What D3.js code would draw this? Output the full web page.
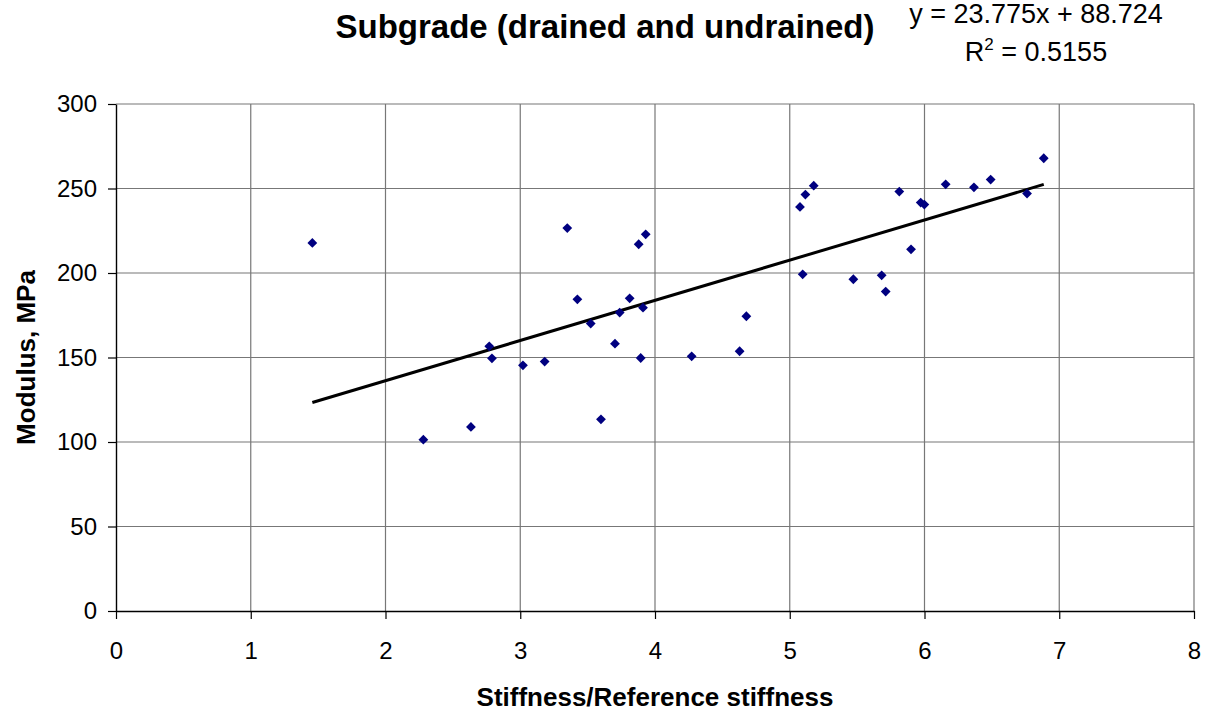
<!DOCTYPE html>
<html>
<head>
<meta charset="utf-8">
<script src="https://cdnjs.cloudflare.com/ajax/libs/d3/7.8.5/d3.min.js"></script>
<style>
  body { margin: 0; background: #fff; }
  svg { font-family: Arial, "Liberation Sans", sans-serif; }
</style>
</head>
<body>
<svg id="chart" width="1216" height="712"></svg>
<script>
// values
var stiffness = [1.457, 3.349, 3.931, 3.879, 3.424, 3.812, 3.911, 3.738, 3.523, 3.703,
                 2.770, 2.790, 3.894, 3.020, 3.181, 3.599, 2.634, 2.281, 4.272, 4.628,
                 4.678, 5.076, 5.116, 5.178, 5.096, 5.472, 5.682, 5.712, 5.813, 5.900,
                 5.972, 5.999, 6.157, 6.367, 6.491, 6.761, 6.885];
var modulus = [217.8, 226.6, 222.9, 217.0, 184.4, 185.0, 179.5, 176.6, 170.1, 158.2,
               156.6, 149.5, 149.7, 145.4, 147.6, 113.4, 108.9, 101.4, 150.7, 153.7,
               174.4, 239.1, 246.4, 251.7, 199.2, 196.3, 198.6, 189.0, 248.2, 214.0,
               241.7, 240.5, 252.5, 250.7, 255.3, 247.0, 267.9];
var xTicks = [0, 1, 2, 3, 4, 5, 6, 7, 8];
var yTicks = [0, 50, 100, 150, 200, 250, 300];
var slope = 23.775, intercept = 88.724;

var margin = {top: 104, right: 22, bottom: 101, left: 116},
    width = 1216 - margin.left - margin.right,
    height = 712 - margin.top - margin.bottom;

var svg = d3.select("#chart");
var g = svg.append("g").attr("transform", "translate(" + margin.left + "," + margin.top + ")");

var x = d3.scaleLinear().domain([0, 8]).range([0, width]);
var y = d3.scaleLinear().domain([0, 300]).range([height, 0]);

// gridlines
g.append("g").selectAll("line").data(yTicks.slice(1)).enter().append("line")
  .attr("x1", 0).attr("x2", width)
  .attr("y1", function(d) { return y(d); }).attr("y2", function(d) { return y(d); })
  .style("stroke", "#777").style("stroke-width", 1.2);
g.append("g").selectAll("line").data(xTicks.slice(1)).enter().append("line")
  .attr("y1", 0).attr("y2", height)
  .attr("x1", function(d) { return x(d); }).attr("x2", function(d) { return x(d); })
  .style("stroke", "#777").style("stroke-width", 1.2);

// axes
var xAxis = g.append("g").attr("transform", "translate(0," + height + ")")
  .call(d3.axisBottom(x).tickValues(xTicks).tickSize(8).tickSizeOuter(0).tickPadding(23));
var yAxis = g.append("g")
  .call(d3.axisLeft(y).tickValues(yTicks).tickSize(8).tickSizeOuter(0).tickPadding(11));
[xAxis, yAxis].forEach(function(a) {
  a.select(".domain").style("stroke", "#000").style("stroke-width", 1.4);
  a.selectAll(".tick line").style("stroke", "#000").style("stroke-width", 1.2);
  a.selectAll(".tick text").style("font-size", "24px").style("fill", "#000")
    .style("font-family", "Arial, 'Liberation Sans', sans-serif");
});

// trend line
var xmin = d3.min(stiffness), xmax = d3.max(stiffness);
g.append("line")
  .attr("x1", x(xmin)).attr("y1", y(slope * xmin + intercept))
  .attr("x2", x(xmax)).attr("y2", y(slope * xmax + intercept))
  .style("stroke", "#000").style("stroke-width", 3);

// points
g.append("g").selectAll("path").data(stiffness).enter().append("path")
  .attr("d", d3.symbol().type(d3.symbolSquare).size(48))
  .attr("transform", function(d, i) {
    return "translate(" + x(d) + "," + y(modulus[i]) + ") rotate(45)";
  })
  .style("fill", "#000080");

// titles
svg.append("text").attr("x", 605).attr("y", 38).attr("text-anchor", "middle")
  .style("font-size", "33px").style("font-weight", "bold").text("Subgrade (drained and undrained)");

svg.append("text").attr("x", 1036).attr("y", 23).attr("text-anchor", "middle")
  .style("font-size", "27px").text("y = 23.775x + 88.724");
var r2 = svg.append("text").attr("x", 1036).attr("y", 61).attr("text-anchor", "middle")
  .style("font-size", "27px");
r2.append("tspan").text("R");
r2.append("tspan").attr("dy", -11).style("font-size", "17px").text("2");
r2.append("tspan").attr("dy", 11).text(" = 0.5155");

svg.append("text").attr("x", margin.left + width / 2).attr("y", 706).attr("text-anchor", "middle")
  .style("font-size", "26px").style("font-weight", "bold").text("Stiffness/Reference stiffness");

svg.append("text").attr("transform", "translate(35," + (margin.top + height / 2) + ") rotate(-90)")
  .attr("text-anchor", "middle")
  .style("font-size", "26px").style("font-weight", "bold").text("Modulus, MPa");
</script>
</body>
</html>
